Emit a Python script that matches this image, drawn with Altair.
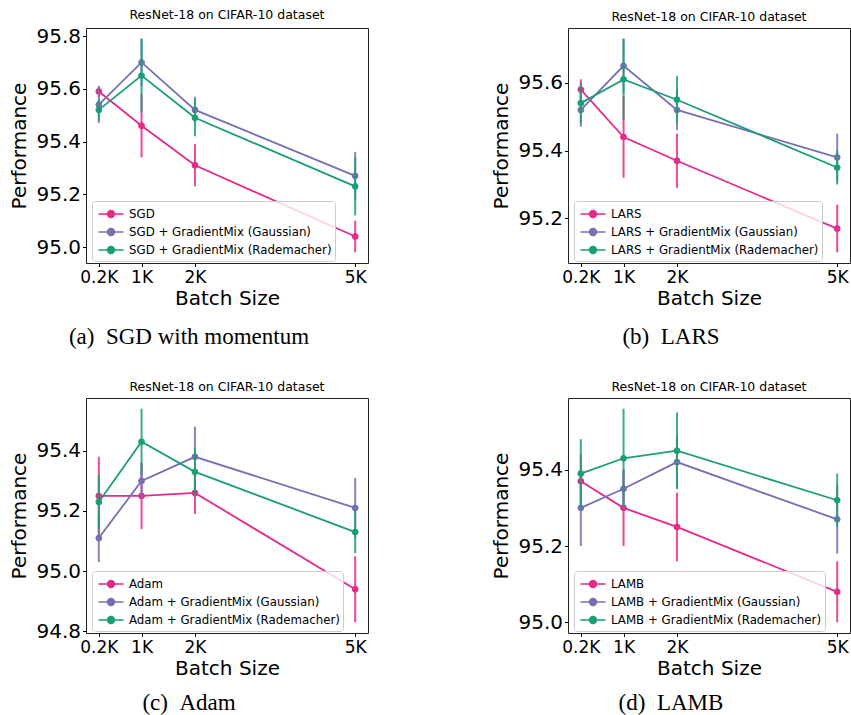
import altair as alt
import pandas as pd

# ---------------- data ----------------
batch = [0.2, 1, 2, 5]
x_labels = ["0.2K", "1K", "2K", "5K"]

sgd_mean = [95.59, 95.46, 95.31, 95.04]
sgd_err = [0.02, 0.12, 0.08, 0.06]
sgd_gauss_mean = [95.54, 95.70, 95.52, 95.27]
sgd_gauss_err = [0.07, 0.09, 0.05, 0.09]
sgd_rade_mean = [95.52, 95.65, 95.49, 95.23]
sgd_rade_err = [0.04, 0.14, 0.07, 0.11]

lars_mean = [95.58, 95.44, 95.37, 95.17]
lars_err = [0.03, 0.12, 0.08, 0.07]
lars_gauss_mean = [95.52, 95.65, 95.52, 95.38]
lars_gauss_err = [0.05, 0.08, 0.06, 0.07]
lars_rade_mean = [95.54, 95.61, 95.55, 95.35]
lars_rade_err = [0.06, 0.12, 0.07, 0.05]

adam_mean = [95.25, 95.25, 95.26, 94.94]
adam_err = [0.13, 0.11, 0.07, 0.11]
adam_gauss_mean = [95.11, 95.30, 95.38, 95.21]
adam_gauss_err = [0.08, 0.06, 0.10, 0.10]
adam_rade_mean = [95.23, 95.43, 95.33, 95.13]
adam_rade_err = [0.09, 0.11, 0.08, 0.07]

lamb_mean = [95.37, 95.30, 95.25, 95.08]
lamb_err = [0.07, 0.10, 0.09, 0.08]
lamb_gauss_mean = [95.30, 95.35, 95.42, 95.27]
lamb_gauss_err = [0.10, 0.05, 0.07, 0.09]
lamb_rade_mean = [95.39, 95.43, 95.45, 95.32]
lamb_rade_err = [0.09, 0.13, 0.10, 0.07]

title_text = "ResNet-18 on CIFAR-10 dataset"
colors = ["#e7298a", "#7570b3", "#1b9e77"]

panels = [
    ("SGD", [sgd_mean, sgd_gauss_mean, sgd_rade_mean], [sgd_err, sgd_gauss_err, sgd_rade_err],
     "(a)\u00a0\u00a0SGD with momentum"),
    ("LARS", [lars_mean, lars_gauss_mean, lars_rade_mean], [lars_err, lars_gauss_err, lars_rade_err],
     "(b)\u00a0\u00a0LARS"),
    ("Adam", [adam_mean, adam_gauss_mean, adam_rade_mean], [adam_err, adam_gauss_err, adam_rade_err],
     "(c)\u00a0\u00a0Adam"),
    ("LAMB", [lamb_mean, lamb_gauss_mean, lamb_rade_mean], [lamb_err, lamb_gauss_err, lamb_rade_err],
     "(d)\u00a0\u00a0LAMB"),
]

# ---------------- layout ----------------
W, H = 282, 235
FONT = "DejaVu Sans"
SERIF = "Liberation Serif"

label_expr = " : ".join(
    [f"datum.value == {b} ? '{l}'" for b, l in zip(batch, x_labels)] + ["''"]
)
xr = max(batch) - min(batch)
x_domain = [min(batch) - 0.05 * xr, max(batch) + 0.05 * xr]

# legend glyph: line + vertical error tick + dot (unit box of a 17.5px symbol)
legend_symbol = ("M-1.43,0L1.43,0M0,-0.46L0,0.46"
                 "M0.39,0A0.39,0.39,0,1,1,-0.39,0A0.39,0.39,0,1,1,0.39,0Z")


def make_panel(idx, opt, means, errs, caption):
    names = [opt, f"{opt} + GradientMix (Gaussian)", f"{opt} + GradientMix (Rademacher)"]
    rows = []
    for name, m, e in zip(names, means, errs):
        for b, mv, ev in zip(batch, m, e):
            rows.append({"batch": b, "series": name, "mean": mv,
                         "lo": mv - ev, "hi": mv + ev})
    df = pd.DataFrame(rows)
    lo, hi = df["lo"].min(), df["hi"].max()
    yd = [lo - 0.05 * (hi - lo), hi + 0.05 * (hi - lo)]
    yticks = [round(94.0 + 0.2 * k, 1) for k in range(15)]
    yticks = [t for t in yticks if yd[0] <= t <= yd[1]]

    xenc = alt.X("batch:Q", scale=alt.Scale(domain=x_domain, nice=False, zero=False),
                 axis=alt.Axis(values=batch, labelExpr=label_expr, title="Batch Size",
                               labelFontSize=17, titleFontSize=20, titlePadding=3,
                               labelPadding=3))
    yaxis = alt.Axis(values=yticks, format=".1f", title="Performance",
                     labelFontSize=20, titleFontSize=20, titlePadding=6, labelPadding=2)
    stroke_scale = alt.Scale(domain=names, range=colors)
    fill_scale = alt.Scale(domain=names, range=colors)
    leg = alt.Legend(title=None, orient="none", legendX=6, legendY=173,
                     symbolType=legend_symbol, symbolSize=306, symbolStrokeWidth=1.6,
                     symbolOffset=6, symbolOpacity=1,
                     labelFont=FONT, labelFontSize=11.8, labelColor="black",
                     labelOffset=8, rowPadding=0, padding=3,
                     fillColor="rgba(255,255,255,0.8)", strokeColor="#cccccc",
                     cornerRadius=3, labelLimit=400)

    layers = []
    for name in names:
        base = alt.Chart(df).transform_filter(alt.datum.series == name)
        err = base.mark_rule(strokeWidth=2, opacity=0.85).encode(
            x=xenc,
            y=alt.Y("lo:Q", scale=alt.Scale(domain=yd, nice=False, zero=False), axis=yaxis),
            y2="hi:Q",
            stroke=alt.Stroke("series:N", scale=stroke_scale, legend=leg),
        )
        line = base.mark_line(strokeWidth=1.8).encode(
            x=xenc, y=alt.Y("mean:Q"),
            stroke=alt.Stroke("series:N", scale=stroke_scale, legend=leg),
            order="batch:Q",
        )
        pts = base.mark_point(filled=True, size=34, strokeWidth=1, opacity=1).encode(
            x=xenc, y=alt.Y("mean:Q"),
            fill=alt.Fill("series:N", scale=fill_scale, legend=leg),
            stroke=alt.Stroke("series:N", scale=stroke_scale, legend=leg),
        )
        layers += [err, line, pts]

    cap_y = 316 if idx < 2 else 312
    cap = alt.Chart(pd.DataFrame({"t": [caption]})).mark_text(
        font=SERIF, fontSize=23, align="center", baseline="alphabetic", color="black"
    ).encode(text="t:N", x=alt.value(103), y=alt.value(cap_y))

    return alt.layer(*layers, cap).properties(
        width=W, height=H,
        title=alt.TitleParams(title_text, font=FONT, fontSize=12.5, fontWeight="normal",
                              anchor="middle", frame="group", offset=5, color="black"),
    )


charts = [make_panel(i, *p) for i, p in enumerate(panels)]

chart = alt.concat(*charts, columns=2, spacing={"row": 135, "column": 200}, bounds="flush")
chart = chart.resolve_scale(fill="independent", stroke="independent", y="independent",
                            x="independent")
chart = chart.configure(font=FONT, background="white",
                        padding={"left": 9, "top": 8, "right": 0, "bottom": 0}) \
    .configure_view(stroke="#222222", strokeWidth=1) \
    .configure_axis(domain=False, grid=False, tickSize=3.5, tickColor="black", tickWidth=1,
                    labelColor="black", titleColor="black", labelFont=FONT, titleFont=FONT,
                    titleFontWeight="normal")

chart.save("out.html", embed_options={"renderer": "svg", "actions": False})
